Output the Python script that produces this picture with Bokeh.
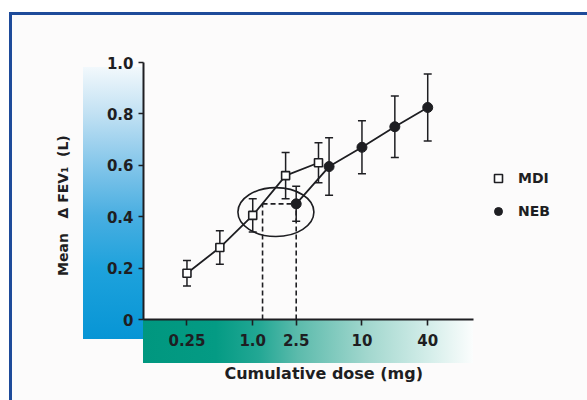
import math
from bokeh.plotting import figure
from bokeh.models import (Range1d, FixedTicker, Whisker, ColumnDataSource,
                          Legend, LegendItem, TeeHead)
from bokeh.embed import file_html
from bokeh.resources import INLINE

# ---------------- data ----------------
mdi_dose = [0.25, 0.5, 1.0, 2.0, 4.0]
mdi_fev = [0.18, 0.28, 0.405, 0.56, 0.61]
mdi_err = [0.05, 0.065, 0.065, 0.09, 0.078]

neb_dose = [2.5, 5.0, 10.0, 20.0, 40.0]
neb_fev = [0.45, 0.595, 0.67, 0.75, 0.825]
neb_err = [0.068, 0.112, 0.103, 0.12, 0.13]

equiv_mdi_dose = 1.23   # MDI dose giving the same response as the first NEB dose
equiv_neb_dose = 2.5

x_ticks = [0.25, 1.0, 2.5, 10, 40]
x_tick_labels = ["0.25", "1.0", "2.5", "10", "40"]
y_ticks = [0, 0.2, 0.4, 0.6, 0.8, 1.0]
y_tick_labels = ["0", "0.2", "0.4", "0.6", "0.8", "1.0"]

FONT = "DejaVu Sans"
INK = "#1e1e22"
NBSP = "\u00a0"

# layout (canvas px)
W, H = 587, 400
FL, FT, FB = 143, 62, 319       # frame left / top / bottom
AXR = 473                        # right end of the x axis line
X0, X1 = 0.1, 105               # x-axis span (log)
px_per_dec = (AXR - FL) / math.log10(X1 / X0)
x_end = X1 * 10 ** ((W - AXR) / px_per_dec)   # frame extends to the right edge

css_bg = ", ".join([
    # blue page border (top and left)
    "linear-gradient(#1e4b9a,#1e4b9a) 9px 12px / 600px 3px no-repeat",
    "linear-gradient(#1e4b9a,#1e4b9a) 9px 12px / 3px 420px no-repeat",
    # blue vertical gradient behind y axis
    "linear-gradient(to bottom, #f2f8fc 0%, #c2e1f3 17%, #84c6ea 36%, #48aee1 55%, "
    "#1ea2dc 74%, #0795d5 100%) 83px 67px / 60px 272px no-repeat",
    # teal horizontal gradient behind x axis
    "linear-gradient(to right, #00977f 0%, #049b84 22%, #22a794 35%, #5cbbac 47%, "
    "#a2d7ce 68%, #d5eeea 87%, #fbfdfd 100%) 143px 319px / 330px 44px no-repeat",
    # page
    "linear-gradient(#fcfbfb,#fcfbfb) 12px 15px / 600px 420px no-repeat",
    "#ffffff",
])

p = figure(width=W, height=H, x_axis_type="log",
           x_range=Range1d(X0, x_end), y_range=Range1d(0, 1.0),
           output_backend="svg", toolbar_location=None,
           min_border_left=FL, min_border_right=0,
           min_border_top=FT, min_border_bottom=H - FB)
p.styles = {"background": css_bg}
p.background_fill_alpha = 0
p.border_fill_alpha = 0
p.outline_line_color = None
p.xgrid.visible = False
p.ygrid.visible = False

# error bars
for dose, fev, err in ((mdi_dose, mdi_fev, mdi_err), (neb_dose, neb_fev, neb_err)):
    src = ColumnDataSource(dict(x=dose,
                                upper=[v + e for v, e in zip(fev, err)],
                                lower=[v - e for v, e in zip(fev, err)]))
    p.add_layout(Whisker(source=src, base="x", upper="upper", lower="lower",
                         dimension="height", line_color=INK, line_width=1.5,
                         upper_head=TeeHead(size=8, line_color=INK, line_width=1.5),
                         lower_head=TeeHead(size=8, line_color=INK, line_width=1.5)))

# dashed equivalence lines
lvl = neb_fev[0]
p.segment(x0=[equiv_mdi_dose, equiv_neb_dose, equiv_mdi_dose],
          y0=[0, 0, lvl],
          x1=[equiv_mdi_dose, equiv_neb_dose, equiv_neb_dose],
          y1=[lvl, lvl, lvl],
          line_color=INK, line_width=1.6, line_dash="5 3")

# highlight ellipse
p.ellipse(x=[1.63], y=[0.418], width=76, height=49,
          width_units="screen", height_units="screen",
          fill_color=None, line_color=INK, line_width=1.6)

# series
p.line(mdi_dose, mdi_fev, line_color=INK, line_width=1.8)
p.line(neb_dose, neb_fev, line_color=INK, line_width=1.8)
r_mdi = p.scatter(mdi_dose, mdi_fev, marker="square", size=8,
                  fill_color="white", line_color=INK, line_width=1.6)
r_neb = p.scatter(neb_dose, neb_fev, marker="circle", size=10,
                  fill_color=INK, line_color=INK)

# axes
for ax in (p.xaxis[0], p.yaxis[0]):
    ax.axis_line_color = INK
    ax.axis_line_width = 2
    ax.major_tick_line_color = INK
    ax.major_tick_line_width = 1.6
    ax.major_tick_in = 0
    ax.minor_tick_line_color = None
    ax.major_label_text_font = FONT
    ax.major_label_text_font_style = "bold"
    ax.major_label_text_font_size = "15px"
    ax.major_label_text_color = INK
    ax.axis_label_text_font = FONT
    ax.axis_label_text_font_style = "bold"
    ax.axis_label_text_color = INK

p.xaxis.bounds = (X0, X1)
p.xaxis.ticker = FixedTicker(ticks=x_ticks)
p.xaxis.major_label_overrides = {t: s for t, s in zip(x_ticks, x_tick_labels)}
p.xaxis.major_tick_out = 6
p.xaxis.major_label_standoff = 8
p.xaxis.axis_label = "Cumulative dose (mg)" + NBSP * 15
p.xaxis.axis_label_text_font_size = "16px"
p.xaxis.axis_label_standoff = 15

p.yaxis.ticker = FixedTicker(ticks=y_ticks)
p.yaxis.major_label_overrides = {t: s for t, s in zip(y_ticks, y_tick_labels)}
p.yaxis.major_tick_out = 5
p.yaxis.major_label_standoff = 5
p.yaxis.axis_label = ("Mean" + NBSP * 3 + "\u0394" + NBSP + "FEV\u2081" + NBSP * 2 + "(L)"
                      + NBSP * 6)
p.yaxis.axis_label_text_font_size = "14px"
p.yaxis.axis_label_standoff = 33

# legend (inside the extended frame, right of the data area)
legend = Legend(items=[LegendItem(label="MDI", renderers=[r_mdi]),
                       LegendItem(label="NEB", renderers=[r_neb])],
                location=(488 - FL, FB - 221), orientation="vertical",
                padding=0, margin=0, spacing=13,
                glyph_width=20, glyph_height=20, label_height=20, label_standoff=10,
                border_line_color=None, background_fill_alpha=0,
                label_text_font=FONT, label_text_font_style="bold",
                label_text_font_size="14px", label_text_color=INK)
p.add_layout(legend)

open("out.html", "w").write(file_html(p, INLINE))
